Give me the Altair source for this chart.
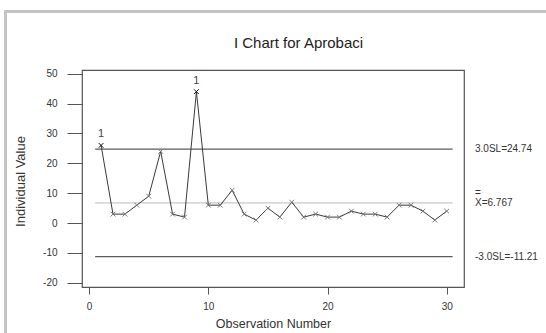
import altair as alt
import pandas as pd

# Individual observations (Aprobaci)
obs = list(range(1, 31))
values = [26, 3, 3, 6, 9, 24, 3, 2, 44, 6,
          6, 11, 3, 1, 5, 2, 7, 2, 3, 2,
          2, 4, 3, 3, 2, 6, 6, 4, 1, 4]

# Control limits and centre line
limit_values = [24.74, 6.767, -11.21]
limit_labels = ["3.0SL=24.74", "X=6.767", "-3.0SL=-11.21"]
limit_colors = ["#5c5c5c", "#c9c9c9", "#5c5c5c"]
limit_span = [0.5, 30.5]

x_ticks = [0, 10, 20, 30]
y_ticks = [-20, -10, 0, 10, 20, 30, 40, 50]

FONT = "Liberation Sans"
W, H = 382, 217

ucl, cl, lcl = limit_values
points = pd.DataFrame({
    "obs": obs,
    "value": values,
    "flag": ["1" if (v > ucl or v < lcl) else "" for v in values],
})
points["out"] = points["flag"] == "1"

limits = pd.DataFrame({
    "value": limit_values,
    "label": limit_labels,
    "color": limit_colors,
    "start": [limit_span[0]] * 3,
    "end": [limit_span[1]] * 3,
})

x_scale = alt.Scale(domain=[-0.6, 31.45], nice=False, zero=False)
y_scale = alt.Scale(domain=[-21.4, 51.25], nice=False, zero=False)

x_axis = alt.Axis(
    values=x_ticks, domain=False, grid=False, tickSize=7, tickColor="#555",
    labelFontSize=10, labelFont=FONT, labelColor="#333", labelPadding=7,
    labelFlush=False, labelExpr="datum.value + ''",
    title="Observation Number", titleFont=FONT,
    titleFontSize=12.5, titleFontWeight="normal", titleColor="#333",
    titleY=36, titleBaseline="middle",
)
y_axis = alt.Axis(
    values=y_ticks, domain=False, grid=False, tickSize=15, tickColor="#555",
    labelFontSize=10, labelFont=FONT, labelColor="#333", labelPadding=10,
    labelFlush=False, labelExpr="datum.value + ''",
    title="Individual Value", titleFont=FONT,
    titleFontSize=13, titleFontWeight="normal", titleColor="#333",
    titleX=-62, titleY=111, titleAngle=270, titleBaseline="middle",
    titleAlign="center",
)


def X(field):
    return alt.X(field, scale=x_scale, axis=x_axis)


def Y(field):
    return alt.Y(field, scale=y_scale, axis=y_axis)


limit_rules = alt.Chart(limits).mark_rule(strokeWidth=1.2).encode(
    x=X("start:Q"),
    x2="end:Q",
    y=Y("value:Q"),
    color=alt.Color("color:N", scale=None),
)

series = alt.Chart(points).mark_line(color="#3a3a3a", strokeWidth=1).encode(
    x=X("obs:Q"),
    y=Y("value:Q"),
)

markers = alt.Chart(points).mark_point(
    shape="M-1,-1L1,1M-1,1L1,-1", size=22, filled=False, strokeWidth=1, opacity=1
).encode(
    x=X("obs:Q"),
    y=Y("value:Q"),
    color=alt.condition("datum.out", alt.value("#111"), alt.value("#777")),
)

flags = alt.Chart(points).transform_filter("datum.out").mark_text(
    font=FONT, fontSize=11, color="#444", dy=-11
).encode(
    x=X("obs:Q"),
    y=Y("value:Q"),
    text="flag:N",
)

limit_text = alt.Chart(limits).mark_text(
    font=FONT, fontSize=10, color="#333", align="left", baseline="middle"
).encode(
    x=alt.value(W + 11),
    y=Y("value:Q"),
    text="label:N",
)

# double bar over the X of the centre-line label
bar_mark = alt.Chart(limits).transform_filter(
    alt.datum.value == cl
).mark_text(
    font=FONT, fontSize=10, color="#333", align="left", baseline="middle", dy=-10
).encode(
    x=alt.value(W + 11),
    y=Y("value:Q"),
    text=alt.value("="),
)

# light grey page frame
frame_top = alt.Chart(alt.Data(values=[{}])).mark_rule(
    color="#c4c4c4", strokeWidth=3
).encode(x=alt.value(-78), x2=alt.value(W + 82), y=alt.value(-58.5))
frame_left = alt.Chart(alt.Data(values=[{}])).mark_rule(
    color="#c4c4c4", strokeWidth=3
).encode(x=alt.value(-76.5), y=alt.value(-58.5), y2=alt.value(H + 46))

chart = alt.layer(
    frame_top, frame_left, limit_rules, series, markers, flags, limit_text, bar_mark
).properties(
    width=W,
    height=H,
    padding={"left": 82, "top": 70, "right": 82, "bottom": 46},
    autosize=alt.AutoSizeParams(type="none"),
    background="white",
    title=alt.TitleParams(
        "I Chart for Aprobaci", font=FONT, fontSize=15, fontWeight="normal",
        color="#222", anchor="middle", frame="group", dx=25.5,
        baseline="middle", offset=-48,
    ),
).configure_view(
    stroke="#555", strokeWidth=1.2
)

chart.save("out.html", embed_options={"renderer": "svg", "actions": False})
